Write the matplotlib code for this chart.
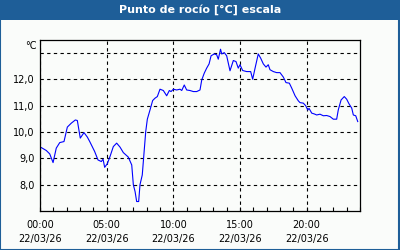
import numpy as np
import matplotlib.pyplot as plt
from matplotlib.patches import Rectangle

# hours since 00:00 22/03/26 and dew point in degC
hours = [0.00, 0.10, 0.47, 0.73, 0.98, 1.22, 1.48, 1.80, 2.05, 2.35, 2.65, 2.80,
         3.02, 3.30, 3.55, 3.73, 4.10, 4.35, 4.60, 4.73, 4.85, 5.05, 5.25, 5.50,
         5.75, 6.00, 6.25, 6.62, 6.88, 7.00, 7.13, 7.25, 7.40, 7.50, 7.67, 7.80,
         7.93, 8.05, 8.25, 8.45, 8.63, 8.80, 9.00, 9.25, 9.50, 9.70, 9.83, 10.00,
         10.25, 10.50, 10.63, 10.82, 11.00, 11.25, 11.50, 11.75, 12.00, 12.13,
         12.32, 12.50, 12.68, 12.83, 13.07, 13.25, 13.37, 13.54, 13.63, 13.82,
         14.00, 14.25, 14.50, 14.70, 14.87, 15.00, 15.20, 15.50, 15.80, 15.95,
         16.13, 16.37, 16.55, 16.75, 16.95, 17.12, 17.25, 17.50, 17.75, 18.00,
         18.25, 18.45, 18.70, 18.88, 19.13, 19.37, 19.50, 19.75, 19.93, 20.08,
         20.18, 20.38, 20.57, 20.75, 21.00, 21.25, 21.50, 21.75, 22.00, 22.25,
         22.37, 22.58, 22.82, 23.00, 23.18, 23.38, 23.50, 23.68, 23.83]
dew = [9.43, 9.41, 9.30, 9.17, 8.84, 9.39, 9.60, 9.64, 10.19, 10.34, 10.46, 10.44,
       9.77, 9.98, 9.81, 9.64, 9.26, 8.94, 8.88, 8.97, 8.66, 8.80, 9.07, 9.45,
       9.58, 9.43, 9.22, 9.05, 8.75, 8.00, 7.74, 7.36, 7.36, 8.00, 8.37, 9.20,
       10.02, 10.49, 10.84, 11.20, 11.29, 11.35, 11.63, 11.58, 11.38, 11.58, 11.54, 11.63,
       11.60, 11.63, 11.58, 11.79, 11.60, 11.58, 11.54, 11.54, 11.60, 11.98,
       12.24, 12.43, 12.59, 12.90, 12.97, 12.94, 12.77, 13.15, 12.97, 13.02,
       12.90, 12.33, 12.72, 12.68, 12.43, 12.56, 12.34, 12.30, 12.30, 12.01,
       12.43, 12.97, 12.81, 12.59, 12.47, 12.56, 12.37, 12.30, 12.26, 12.26,
       12.09, 11.88, 11.86, 11.67, 11.38, 11.19, 11.12, 11.10, 11.00, 10.84,
       10.90, 10.72, 10.69, 10.65, 10.68, 10.62, 10.63, 10.59, 10.49, 10.49,
       10.84, 11.22, 11.35, 11.25, 11.07, 10.91, 10.65, 10.62, 10.40]

x_ticks = [0, 5, 10, 15, 20]
x_labels = ['00:00\n22/03/26', '05:00\n22/03/26', '10:00\n22/03/26',
            '15:00\n22/03/26', '20:00\n22/03/26']
y_ticks = [8, 9, 10, 11, 12, 13]
y_labels = ['8,0', '9,0', '10,0', '11,0', '12,0', '']

blue = '#1e5e98'
fig = plt.figure(figsize=(4, 2.5), dpi=100, facecolor='#fafcfa')

# title bar and outer frame
fig.patches.append(Rectangle((0, 230 / 250), 1, 20 / 250, transform=fig.transFigure,
                             facecolor=blue, edgecolor='none', zorder=0))
fig.patches.append(Rectangle((0.001, 0.002), 0.997, 0.996, transform=fig.transFigure,
                             facecolor='none', edgecolor=blue, linewidth=1.5, zorder=1))
fig.text(0.5, 240 / 250, 'Punto de rocío [°C] escala', color='white',
         fontsize=8, fontweight='bold', ha='center', va='center')

ax = fig.add_axes([0.1, 39 / 250, 0.8, 171 / 250])
ax.set_facecolor('#fafcfa')
ax.plot(hours, dew, color='#0000ff', linewidth=0.8)

ax.set_xlim(0, 24)
ax.set_ylim(7.0, 13.5)
ax.set_xticks(x_ticks)
ax.set_xticklabels(x_labels, fontsize=7, linespacing=1.45)
ax.set_xticks(np.arange(0, 25, 1), minor=True)
ax.set_yticks(y_ticks)
ax.set_yticklabels(y_labels, fontsize=7)
ax.tick_params(axis='x', which='both', direction='in', length=3, width=0.8, pad=6.5)
ax.tick_params(axis='y', length=0, pad=4)
ax.text(-0.012, 13.28, '°C', transform=ax.get_yaxis_transform(),
        fontsize=7, ha='right', va='center')

ax.grid(True, which='major', color='black', linestyle=(0, (3, 3)), linewidth=0.8)
for s in ax.spines.values():
    s.set_linewidth(0.9)
    s.set_color('black')

fig.savefig('out.png', dpi=100, facecolor=fig.get_facecolor())
